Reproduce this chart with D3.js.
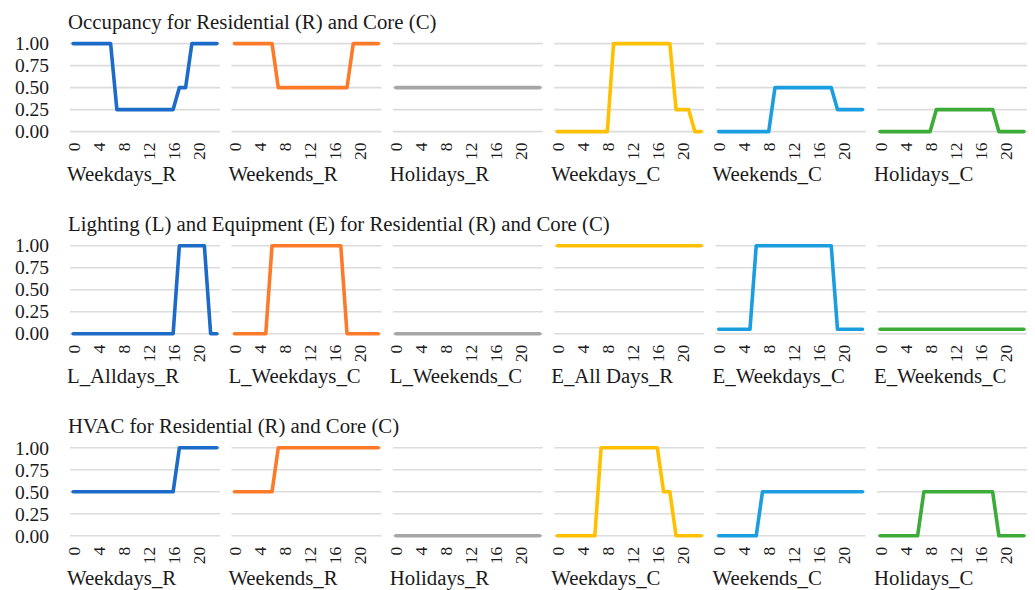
<!DOCTYPE html>
<html>
<head>
<meta charset="utf-8">
<script src="https://cdn.jsdelivr.net/npm/d3@7"></script>
<style>
  html, body { margin: 0; padding: 0; background: #ffffff; }
  svg { display: block; }
  svg text { font-family: "Liberation Serif", "Tinos", "Times New Roman", "DejaVu Serif", "Noto Serif", serif !important; fill: #1a1a1a; }
</style>
</head>
<body>
<svg id="chart" width="1035" height="590"></svg>
<script>
// ---------------- DATA ----------------
const hours = [0,1,2,3,4,5,6,7,8,9,10,11,12,13,14,15,16,17,18,19,20,21,22,23];
const hourTicks = [0,4,8,12,16,20];
const yTicks = [0,0.25,0.5,0.75,1];

const rowTitles = [
  "Occupancy for Residential (R) and Core (C)",
  "Lighting (L) and Equipment (E) for Residential (R) and Core (C)",
  "HVAC for Residential (R) and Core (C)"
];

const occupancyNames = ["Weekdays_R","Weekends_R","Holidays_R","Weekdays_C","Weekends_C","Holidays_C"];
const lightingNames  = ["L_Alldays_R","L_Weekdays_C","L_Weekends_C","E_All Days_R","E_Weekdays_C","E_Weekends_C"];
const hvacNames      = ["Weekdays_R","Weekends_R","Holidays_R","Weekdays_C","Weekends_C","Holidays_C"];

const panelColors = ["#1c6bc8","#fb7b2a","#a6a6a6","#ffc000","#1b9ddf","#3cab37"];

// Occupancy
const occWeekdaysR = [1,1,1,1,1,1,1,0.25,0.25,0.25,0.25,0.25,0.25,0.25,0.25,0.25,0.25,0.5,0.5,1,1,1,1,1];
const occWeekendsR = [1,1,1,1,1,1,1,0.5,0.5,0.5,0.5,0.5,0.5,0.5,0.5,0.5,0.5,0.5,0.5,1,1,1,1,1];
const occHolidaysR = [0.5,0.5,0.5,0.5,0.5,0.5,0.5,0.5,0.5,0.5,0.5,0.5,0.5,0.5,0.5,0.5,0.5,0.5,0.5,0.5,0.5,0.5,0.5,0.5];
const occWeekdaysC = [0,0,0,0,0,0,0,0,0,1,1,1,1,1,1,1,1,1,1,0.25,0.25,0.25,0,0];
const occWeekendsC = [0,0,0,0,0,0,0,0,0,0.5,0.5,0.5,0.5,0.5,0.5,0.5,0.5,0.5,0.5,0.25,0.25,0.25,0.25,0.25];
const occHolidaysC = [0,0,0,0,0,0,0,0,0,0.25,0.25,0.25,0.25,0.25,0.25,0.25,0.25,0.25,0.25,0,0,0,0,0];

// Lighting & Equipment
const lAlldaysR  = [0,0,0,0,0,0,0,0,0,0,0,0,0,0,0,0,0,1,1,1,1,1,0,0];
const lWeekdaysC = [0,0,0,0,0,0,1,1,1,1,1,1,1,1,1,1,1,1,0,0,0,0,0,0];
const lWeekendsC = [0,0,0,0,0,0,0,0,0,0,0,0,0,0,0,0,0,0,0,0,0,0,0,0];
const eAllDaysR  = [1,1,1,1,1,1,1,1,1,1,1,1,1,1,1,1,1,1,1,1,1,1,1,1];
const eWeekdaysC = [0.05,0.05,0.05,0.05,0.05,0.05,1,1,1,1,1,1,1,1,1,1,1,1,1,0.05,0.05,0.05,0.05,0.05];
const eWeekendsC = [0.05,0.05,0.05,0.05,0.05,0.05,0.05,0.05,0.05,0.05,0.05,0.05,0.05,0.05,0.05,0.05,0.05,0.05,0.05,0.05,0.05,0.05,0.05,0.05];

// HVAC
const hWeekdaysR = [0.5,0.5,0.5,0.5,0.5,0.5,0.5,0.5,0.5,0.5,0.5,0.5,0.5,0.5,0.5,0.5,0.5,1,1,1,1,1,1,1];
const hWeekendsR = [0.5,0.5,0.5,0.5,0.5,0.5,0.5,1,1,1,1,1,1,1,1,1,1,1,1,1,1,1,1,1];
const hHolidaysR = [0,0,0,0,0,0,0,0,0,0,0,0,0,0,0,0,0,0,0,0,0,0,0,0];
const hWeekdaysC = [0,0,0,0,0,0,0,1,1,1,1,1,1,1,1,1,1,0.5,0.5,0,0,0,0,0];
const hWeekendsC = [0,0,0,0,0,0,0,0.5,0.5,0.5,0.5,0.5,0.5,0.5,0.5,0.5,0.5,0.5,0.5,0.5,0.5,0.5,0.5,0.5];
const hHolidaysC = [0,0,0,0,0,0,0,0.5,0.5,0.5,0.5,0.5,0.5,0.5,0.5,0.5,0.5,0.5,0.5,0,0,0,0,0];

const rows = [
  { title: rowTitles[0], names: occupancyNames, series: [occWeekdaysR, occWeekendsR, occHolidaysR, occWeekdaysC, occWeekendsC, occHolidaysC] },
  { title: rowTitles[1], names: lightingNames,  series: [lAlldaysR, lWeekdaysC, lWeekendsC, eAllDaysR, eWeekdaysC, eWeekendsC] },
  { title: rowTitles[2], names: hvacNames,      series: [hWeekdaysR, hWeekendsR, hHolidaysR, hWeekdaysC, hWeekendsC, hHolidaysC] }
];

// ---------------- LAYOUT ----------------
const FONT = "'Liberation Serif', 'Tinos', 'Times New Roman', 'DejaVu Serif', 'Noto Serif', serif";
const svg = d3.select("#chart");
const panelX0 = 70, panelStep = 161.4, panelW = 150;
const rowTop0 = 43.6, rowStep = 202.1, plotH = 88;

rows.forEach((row, r) => {
  const yTop = rowTop0 + r * rowStep;
  const y = d3.scaleLinear().domain([0, 1]).range([yTop + plotH, yTop]);
  const g = svg.append("g");

  g.append("text")
    .attr("x", 68).attr("y", yTop - 15)
    .style("font-size", "20.8px")
    .text(row.title);

  // y axis labels (first panel only)
  const yAxis = d3.axisLeft(y).tickValues(yTicks).tickFormat(d3.format(".2f")).tickSize(0).tickPadding(0);
  g.append("g")
    .attr("transform", `translate(49,0)`)
    .call(yAxis)
    .attr("font-family", FONT)
    .call(s => s.select(".domain").remove())
    .call(s => s.selectAll("text").style("font-size", "19.5px").attr("fill", "#1a1a1a"));

  row.series.forEach((vals, p) => {
    const x0 = panelX0 + p * panelStep;
    const x = d3.scalePoint().domain(hours).range([x0, x0 + panelW]).padding(0.5);
    const pg = g.append("g");

    // gridlines
    pg.selectAll("line.grid").data(yTicks).join("line")
      .attr("x1", x0).attr("x2", x0 + panelW)
      .attr("y1", d => y(d)).attr("y2", d => y(d))
      .attr("stroke", "#dcdcdc").attr("stroke-width", 1.6);

    // x axis (rotated hour labels)
    const xAxis = d3.axisBottom(x).tickValues(hourTicks).tickSize(0).tickPadding(0);
    pg.append("g")
      .attr("transform", `translate(0,${yTop + plotH + 11})`)
      .call(xAxis)
      .attr("font-family", FONT)
      .call(s => s.select(".domain").remove())
      .call(s => s.selectAll("text")
        .attr("transform", "rotate(-90)")
        .attr("x", 0).attr("y", 0).attr("dy", "0.34em")
        .attr("text-anchor", "end")
        .attr("fill", "#1a1a1a")
        .style("font-size", "17.5px"));

    // line
    const line = d3.line().x((d, i) => x(hours[i])).y(d => y(d));
    pg.append("path")
      .datum(vals)
      .attr("d", line)
      .attr("fill", "none")
      .attr("stroke", panelColors[p])
      .attr("stroke-width", 3.6)
      .attr("stroke-linejoin", "round")
      .attr("stroke-linecap", "round");

    // category label
    pg.append("text")
      .attr("x", x0 - 3).attr("y", yTop + plotH + 49)
      .style("font-size", "20.8px")
      .text(row.names[p]);
  });
});
</script>
</body>
</html>
